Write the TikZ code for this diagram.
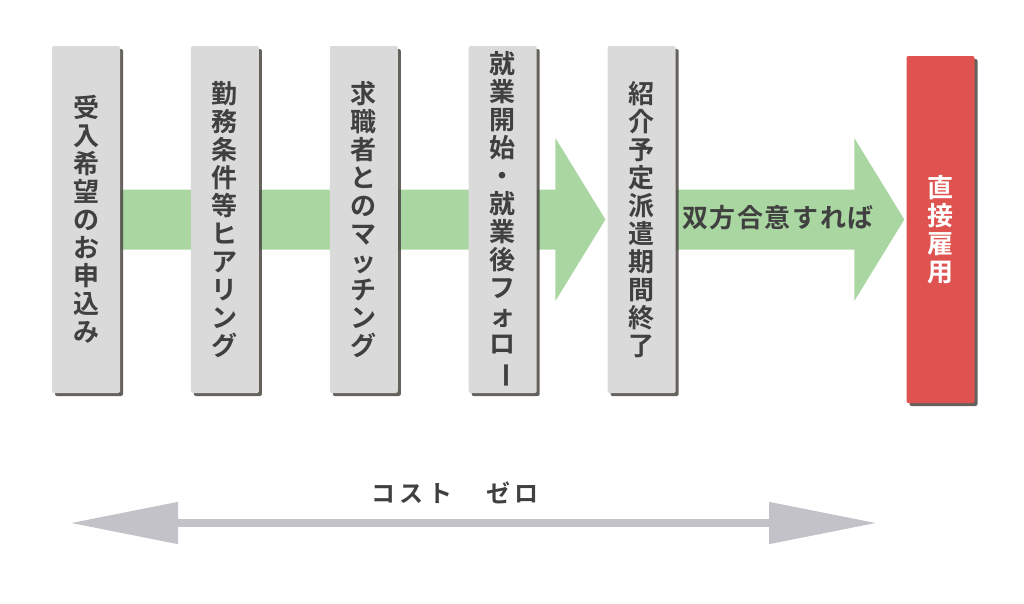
\documentclass[tikz,border=0pt]{standalone}
\usepackage{fontspec}
\usepackage{graphicx}
\usetikzlibrary{calc,positioning,shadows,arrows.meta,backgrounds}
\newfontfamily\jpfont[BoldFont={* Bold}]{Noto Sans CJK JP}
\definecolor{boxgray}{RGB}{218,218,218}
\definecolor{flowgreen}{RGB}{170,214,161}
\definecolor{hirered}{RGB}{222,82,79}
\definecolor{costgray}{RGB}{195,194,201}
\definecolor{inkgray}{RGB}{64,64,64}
\definecolor{shadegray}{RGB}{74,70,66}
\tikzset{
	stepbox/.style={rectangle, rounded corners=2pt, fill=boxgray, text=inkgray, align=center,
		minimum width=68pt, minimum height=347pt, inner sep=0pt,
		font=\jpfont\bfseries\fontsize{26}{28}\selectfont,
		drop shadow={shadow xshift=3pt, shadow yshift=-3pt, fill=shadegray, opacity=0.85}},
	flow/.style={fill=flowgreen},
	flowtext/.style={text=inkgray, inner sep=0pt, font=\jpfont\bfseries\fontsize{26}{28}\selectfont\addfontfeatures{LetterSpace=6}},
	costtext/.style={text=inkgray, inner sep=0pt, font=\jpfont\bfseries\fontsize{24}{28}\selectfont\addfontfeatures{LetterSpace=20}},
	costarrow/.style={draw=costgray, line width=8pt, {Triangle[length=108pt,width=40pt]}-{Triangle[length=108pt,width=40pt]}}
}
\def\vbar{\rotatebox[origin=c]{-90}{ー}}
\def\flowarrow(#1)(#2){%
	\coordinate (tip-#1) at ($(#2.west |- #1.east)+(-2,0)$);
	\fill[flow] ($(#1.east)+(0,-30)$) -- ($(tip-#1)+(-50,-30)$) -- ($(tip-#1)+(-50,-81.5)$) -- (tip-#1)
		-- ($(tip-#1)+(-50,81.5)$) -- ($(tip-#1)+(-50,30)$) -- ($(#1.east)+(0,30)$) -- cycle;}

\begin{document}
\begin{tikzpicture}[x=1pt,y=-1pt]
			%%%%% START %%%%%
			\useasboundingbox (0,0) rectangle (1024,603);
			
			\node[stepbox] (b1) at (86,219.5) {受\\入\\希\\望\\の\\お\\申\\込\\み};
			\node[stepbox, right=70.5pt of b1] (b2) {勤\\務\\条\\件\\等\\ヒ\\ア\\リ\\ン\\グ};
			\node[stepbox, right=70.5pt of b2] (b3) {求\\職\\者\\と\\の\\マ\\ッ\\チ\\ン\\グ};
			\node[stepbox, right=70.5pt of b3] (b4) {就\\業\\開\\始\\・\\就\\業\\後\\フ\\ォ\\ロ\\\vbar};
			\node[stepbox, right=70.5pt of b4] (b5) {紹\\介\\予\\定\\派\\遣\\期\\間\\終\\了};
			
			\node[stepbox, fill=hirered, text=white] (hire) at (940.5,229.5) {直\\接\\雇\\用};
			
			\begin{scope}[on background layer]
				\flowarrow(b1)(b5)
				\flowarrow(b5)(hire)
			\end{scope}
			
			\node[flowtext] (agree) at (778,218) {双方合意すれば};
			
			\coordinate (costL) at (70,523);
			\coordinate (costR) at (877,523);
			\draw[costarrow] (costL) -- (costR);
			\node[costtext] (cost) at (455,493) {コスト　ゼロ};
			
			%%%%% END %%%%%
\end{tikzpicture}
\end{document}
